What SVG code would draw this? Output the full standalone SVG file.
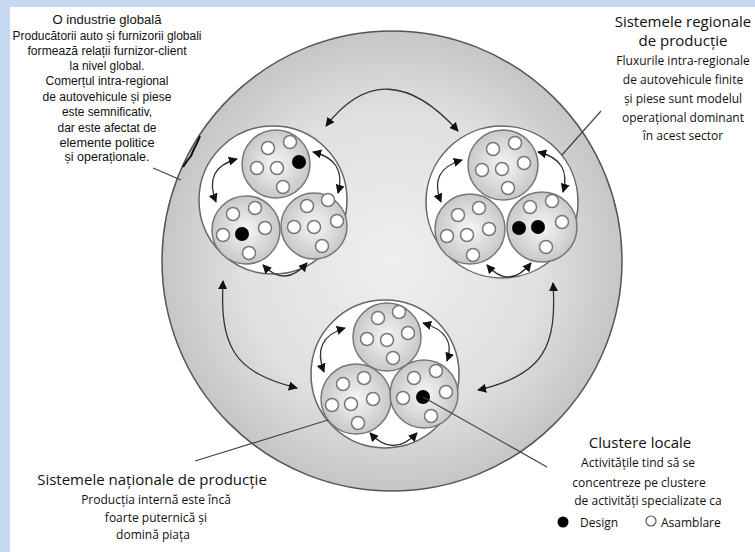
<svg xmlns="http://www.w3.org/2000/svg" width="755" height="552" viewBox="0 0 755 552">
<defs>
<radialGradient id="gWorld" cx="50%" cy="50%" r="50%">
<stop offset="0" stop-color="#efefef"/>
<stop offset="0.65" stop-color="#e0e0e0"/>
<stop offset="1" stop-color="#c6c6c6"/>
</radialGradient>
<radialGradient id="gSphere" cx="50%" cy="50%" r="50%">
<stop offset="0" stop-color="#f6f6f6"/>
<stop offset="1" stop-color="#c8c8c8"/>
</radialGradient>
<marker id="ah" viewBox="0 0 10 10" refX="9" refY="5" markerWidth="7" markerHeight="7" markerUnits="strokeWidth" orient="auto-start-reverse">
<path d="M0,0 L10,5 L0,10 z" fill="#111"/>
</marker>
<style>
.ring{fill:#fff;stroke:#666;stroke-width:1.5}
.sph{fill:url(#gSphere);stroke:#777;stroke-width:1.5}
.dot{fill:#fff;stroke:#777;stroke-width:1.5}
.bdot{fill:#000}
.arr{fill:none;stroke:#333;stroke-width:1.3;marker-start:url(#ah);marker-end:url(#ah)}
.lead{fill:none;stroke:#444;stroke-width:1.2}
.t1{font-family:"Liberation Sans",Arial,sans-serif;font-size:12px;fill:#111;text-anchor:middle}
.h{font-family:"Open Sans","Liberation Sans",sans-serif;font-size:15px;fill:#111;text-anchor:middle}
.s{font-family:"Open Sans","Liberation Sans",sans-serif;font-size:12px;fill:#111;text-anchor:middle}
.l{font-family:"Open Sans","Liberation Sans",sans-serif;font-size:12px;fill:#111}
</style>
</defs>
<rect x="0" y="0" width="755" height="552" fill="#fff"/>
<rect x="0" y="0" width="755" height="7" fill="#c6d9f1"/>
<rect x="0" y="0" width="10" height="552" fill="#c6d9f1"/>

<g id="world">
<circle cx="392" cy="261" r="230" fill="url(#gWorld)" stroke="#555" stroke-width="1.5"/>
<path d="M200,136 L197,143 L194,149 L191,156 L187,161 L183,167" fill="none" stroke="#111" stroke-width="2"/>
</g>

<g id="cluster-tl">
<circle class="ring" cx="273" cy="200" r="74"/>
<circle class="sph" cx="276" cy="164" r="34"/>
<circle class="sph" cx="246" cy="230" r="34"/>
<circle class="sph" cx="314" cy="226" r="33"/>
<circle class="dot" cx="268" cy="148" r="6.5"/><circle class="dot" cx="290" cy="142" r="6.5"/><circle class="dot" cx="257" cy="168" r="6.5"/><circle class="dot" cx="277" cy="168" r="6.5"/><circle class="dot" cx="283" cy="187" r="6.5"/><circle class="bdot" cx="299" cy="162" r="7"/>
<circle class="dot" cx="233" cy="214" r="6.5"/><circle class="dot" cx="255" cy="208" r="6.5"/><circle class="dot" cx="223" cy="235" r="6.5"/><circle class="bdot" cx="242" cy="234" r="7"/><circle class="dot" cx="265" cy="228" r="6.5"/><circle class="dot" cx="249" cy="253" r="6.5"/>
<circle class="dot" cx="307" cy="206" r="6.5"/><circle class="dot" cx="328" cy="200" r="6.5"/><circle class="dot" cx="337" cy="221" r="6.5"/><circle class="dot" cx="294" cy="227" r="6.5"/><circle class="dot" cx="314" cy="227" r="6.5"/><circle class="dot" cx="322" cy="246" r="6.5"/>
</g>

<g id="cluster-tr">
<circle class="ring" cx="502" cy="202" r="76"/>
<circle class="sph" cx="503" cy="165" r="35"/>
<circle class="sph" cx="470" cy="229" r="35"/>
<circle class="sph" cx="542" cy="227" r="35"/>
<circle class="dot" cx="493" cy="149" r="6.5"/><circle class="dot" cx="515" cy="143" r="6.5"/><circle class="dot" cx="482" cy="170" r="6.5"/><circle class="dot" cx="502" cy="169" r="6.5"/><circle class="dot" cx="524" cy="163" r="6.5"/><circle class="dot" cx="508" cy="188" r="6.5"/>
<circle class="dot" cx="458" cy="215" r="6.5"/><circle class="dot" cx="479" cy="208" r="6.5"/><circle class="dot" cx="447" cy="236" r="6.5"/><circle class="dot" cx="467" cy="235" r="6.5"/><circle class="dot" cx="489" cy="229" r="6.5"/><circle class="dot" cx="473" cy="255" r="6.5"/>
<circle class="dot" cx="530" cy="207" r="6.5"/><circle class="dot" cx="552" cy="201" r="6.5"/><circle class="dot" cx="562" cy="222" r="6.5"/><circle class="bdot" cx="519" cy="228" r="7"/><circle class="bdot" cx="538" cy="227" r="7"/><circle class="dot" cx="546" cy="247" r="6.5"/>
</g>

<g id="cluster-b">
<circle class="ring" cx="385" cy="374" r="74"/>
<circle class="sph" cx="387" cy="337" r="34"/>
<circle class="sph" cx="356" cy="399" r="35"/>
<circle class="sph" cx="424" cy="394" r="34"/>
<circle class="dot" cx="378" cy="318" r="6.5"/><circle class="dot" cx="399" cy="312" r="6.5"/><circle class="dot" cx="367" cy="339" r="6.5"/><circle class="dot" cx="387" cy="340" r="6.5"/><circle class="dot" cx="408" cy="333" r="6.5"/><circle class="dot" cx="393" cy="358" r="6.5"/>
<circle class="dot" cx="343" cy="384" r="6.5"/><circle class="dot" cx="364" cy="378" r="6.5"/><circle class="dot" cx="332" cy="405" r="6.5"/><circle class="dot" cx="351" cy="404" r="6.5"/><circle class="dot" cx="373" cy="399" r="6.5"/><circle class="dot" cx="358" cy="423" r="6.5"/>
<circle class="dot" cx="414" cy="378" r="6.5"/><circle class="dot" cx="436" cy="371" r="6.5"/><circle class="dot" cx="446" cy="392" r="6.5"/><circle class="dot" cx="403" cy="398" r="6.5"/><circle class="bdot" cx="423" cy="397" r="7"/><circle class="dot" cx="431" cy="416" r="6.5"/>
</g>

<g id="connectors">
<path class="arr" d="M237,159 Q203,168 216,202"/>
<path class="arr" d="M313,152 Q347,160 338,193"/>
<path class="arr" d="M263,265 Q285,288 307,263"/>
<path class="arr" d="M462,160 Q428,170 441,202"/>
<path class="arr" d="M538,152 Q572,160 563,192"/>
<path class="arr" d="M487,265 Q509,290 531,263"/>
<path class="arr" d="M345,328 Q311,338 324,372"/>
<path class="arr" d="M423,323 Q457,333 447,361"/>
<path class="arr" d="M370,433 Q393,458 417,433"/>
<path class="arr" d="M326,126 Q385,50 458,131"/>
<path class="arr" d="M223,281 C220,345 232,372 297,388"/>
<path class="arr" d="M553,283 C557,345 545,375 478,390"/>
<path class="lead" d="M153,168 L181,180"/>
<path class="lead" d="M601,111 L562,155"/>
<path class="lead" d="M195,461 L328,420"/>
<path class="lead" d="M547,467 L423,397"/>
</g>

<g id="text-global">
<text class="t1" x="107" y="24" textLength="109" lengthAdjust="spacingAndGlyphs">O industrie globală</text>
<text class="t1" x="107" y="40" textLength="189" lengthAdjust="spacingAndGlyphs">Producătorii auto și furnizorii globali</text>
<text class="t1" x="107" y="55" textLength="159" lengthAdjust="spacingAndGlyphs">formează relații furnizor-client</text>
<text class="t1" x="107" y="70" textLength="75" lengthAdjust="spacingAndGlyphs">la nivel global.</text>
<text class="t1" x="107" y="85" textLength="123" lengthAdjust="spacingAndGlyphs">Comerțul intra-regional</text>
<text class="t1" x="107" y="101" textLength="129" lengthAdjust="spacingAndGlyphs">de autovehicule și piese</text>
<text class="t1" x="107" y="116" textLength="90" lengthAdjust="spacingAndGlyphs">este semnificativ,</text>
<text class="t1" x="107" y="132" textLength="99" lengthAdjust="spacingAndGlyphs">dar este afectat de</text>
<text class="t1" x="107" y="147" textLength="95" lengthAdjust="spacingAndGlyphs">elemente politice</text>
<text class="t1" x="107" y="161" textLength="85" lengthAdjust="spacingAndGlyphs">și operaționale.</text>
</g>

<g id="text-regional">
<text class="h" x="683" y="27">Sistemele regionale</text>
<text class="h" x="683" y="46">de producție</text>
<text class="s" x="683" y="65">Fluxurile intra-regionale</text>
<text class="s" x="683" y="84">de autovehicule finite</text>
<text class="s" x="683" y="103">și piese sunt modelul</text>
<text class="s" x="683" y="122">operațional dominant</text>
<text class="s" x="683" y="140">în acest sector</text>
</g>

<g id="text-national">
<text class="h" x="152" y="485">Sistemele naționale de producție</text>
<text class="s" x="156" y="504">Producția internă este încă</text>
<text class="s" x="156" y="522">foarte puternică și</text>
<text class="s" x="153" y="539">domină piața</text>
</g>

<g id="text-local">
<text class="h" x="640" y="448">Clustere locale</text>
<text class="s" x="638" y="467">Activitățile tind să se</text>
<text class="s" x="639" y="487">concentreze pe clustere</text>
<text class="s" x="648" y="505">de activități specializate ca</text>
<circle cx="563" cy="522" r="5.5" fill="#000"/>
<text class="l" x="580" y="527">Design</text>
<circle cx="651" cy="521" r="5" fill="#fff" stroke="#555" stroke-width="1.2"/>
<text class="l" x="661" y="527">Asamblare</text>
</g>
</svg>
